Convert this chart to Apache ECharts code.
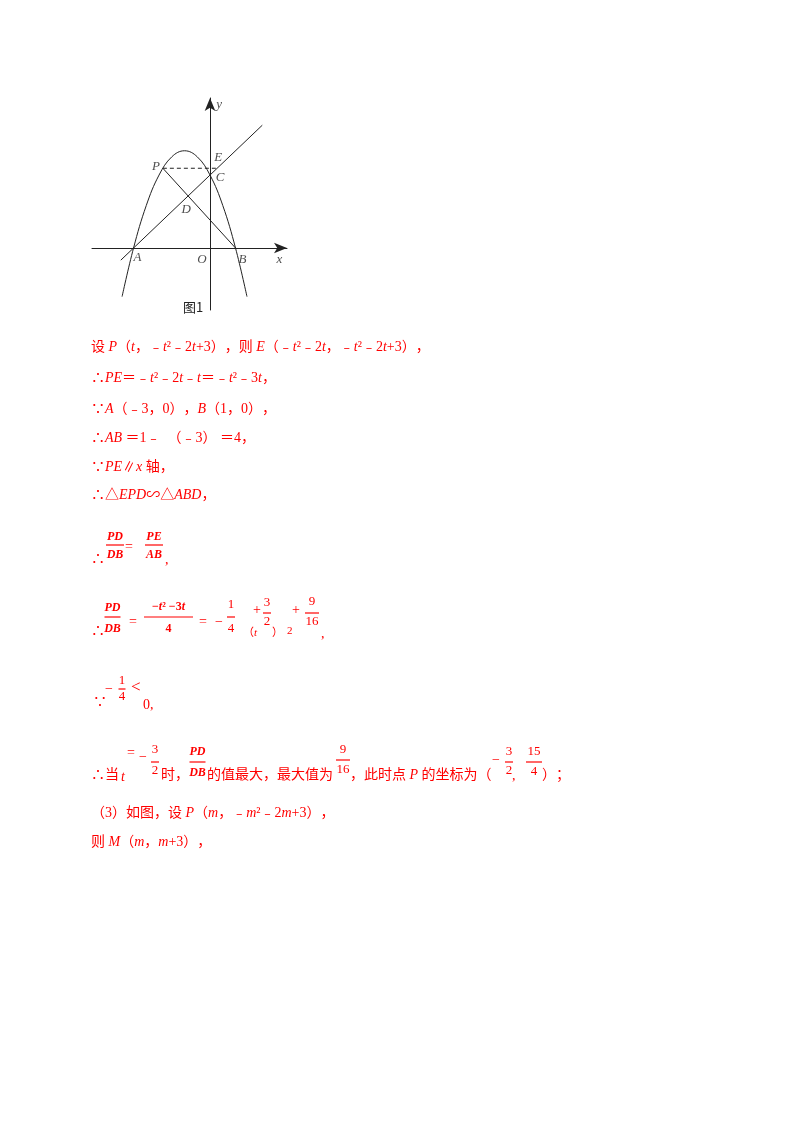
<!DOCTYPE html>
<html>
<head>
<meta charset="utf-8">
<script src="https://cdn.jsdelivr.net/npm/echarts@6/dist/echarts.min.js"></script>
<style>
  html, body { margin: 0; background: #fff; }
  #main { width: 800px; height: 1132px; }
</style>
</head>
<body>
<div id="main"></div>
<script>
// figure 1: parabola y = -x^2 - 2x + 3, line AC, segments PB and PE
var curveX = [-3.45, -3, -2.5, -2, -1.5, -1, -0.5, 0, 0.5, 1, 1.45];
var curveY = [-2.0, 0, 1.75, 3, 3.75, 4, 3.75, 3, 1.75, 0, -2.0];
var lineACX = [-3.5, 2.05];
var lineACY = [-0.5, 5.05];
var segPBX = [-1.85, 1];
var segPBY = [3.28, 0];
var segPEX = [-1.85, 0.28];
var segPEY = [3.28, 3.28];
var pointNames = ['P', 'E', 'C', 'D', 'A', 'O', 'B'];
var pointX = [-1.85, 0.28, 0, -0.86, -3, 0, 1];
var pointY = [3.28, 3.28, 3, 2.14, 0, 0, 0];
var axisNames = ['x', 'y'];
var axisNameX = [2.72, 0];
var axisNameY = [0, 5.9];

// solution text (red)
var textLines = [
  '设 *P*（*t*，﹣*t*²﹣2*t*+3），则 *E*（﹣*t*²﹣2*t*，﹣*t*²﹣2*t*+3），',
  '∴*PE*＝﹣*t*²﹣2*t*﹣*t*＝﹣*t*²﹣3*t*，',
  '∵*A*（﹣3，0），*B*（1，0），',
  '∴*AB* ＝1﹣  （﹣3） ＝4，',
  '∵*PE*∥*x* 轴，',
  '∴△*EPD*∽△*ABD*，'
];
var tailLines = [
  '（3）如图，设 *P*（*m*，﹣*m*²﹣2*m*+3），',
  '则 *M*（*m*，*m*+3），'
];

var RED = '#ff0000';
var INK = '#222';
var SERIF = '"Liberation Serif","Noto Sans CJK SC",serif';

var richStyles = {
  n: { fontFamily: SERIF, fontSize: 14, fill: RED },
  ni: { fontFamily: SERIF, fontSize: 14, fontStyle: 'italic', fill: RED },
  b: { fontFamily: SERIF, fontSize: 12, fontWeight: 'bold', fill: RED },
  bi: { fontFamily: SERIF, fontSize: 12, fontWeight: 'bold', fontStyle: 'italic', fill: RED },
  f: { fontFamily: SERIF, fontSize: 13, fill: RED },
  fi: { fontFamily: SERIF, fontSize: 13, fontStyle: 'italic', fill: RED },
  s: { fontFamily: SERIF, fontSize: 11, fill: RED },
  si: { fontFamily: SERIF, fontSize: 11, fontStyle: 'italic', fill: RED },
  l: { fontFamily: SERIF, fontSize: 17, fill: RED }
};

// every full-width punctuation mark gets its own token, so the browser
// does not squeeze pairs like "），"
function rich(str, cls) {
  var parts = str.split('*');
  var out = '';
  parts.forEach(function (p, k) {
    if (!p) return;
    if (k % 2) { out += '{' + cls + 'i|' + p + '}'; return; }
    p.split(/([（），：；＝])/).forEach(function (q) {
      if (q) out += '{' + cls + '|' + q + '}';
    });
  });
  return out;
}

function txt(x, y, str, cls, align) {
  return {
    type: 'text', x: x, y: y, silent: true,
    style: {
      text: rich(str, cls || 'n'),
      rich: richStyles,
      align: align || 'left',
      verticalAlign: 'middle'
    }
  };
}

function frac(cx, barY, w, num, den, numY, denY, cls) {
  return [
    txt(cx, numY, num, cls, 'center'),
    { type: 'line', silent: true,
      shape: { x1: cx - w / 2, y1: barY, x2: cx + w / 2, y2: barY },
      style: { stroke: RED, lineWidth: 1.2 } },
    txt(cx, denY, den, cls, 'center')
  ];
}

var lineRows = [347, 378, 409, 438, 467, 495];
var graphics = [];
textLines.forEach(function (s, k) { graphics.push(txt(91, lineRows[k], s, 'n')); });

// PD/DB = PE/AB
graphics.push(txt(91, 559, '∴', 'n'));
graphics = graphics.concat(frac(115, 545, 18, '*PD*', '*DB*', 537, 555, 'b'));
graphics.push(txt(125, 547, '=', 'n'));
graphics = graphics.concat(frac(154, 545, 18, '*PE*', '*AB*', 537, 555, 'b'));
graphics.push(txt(165, 560, ',', 'n'));

// PD/DB = (-t^2-3t)/4 = -1/4 (t+3/2)^2 + 9/16
graphics.push(txt(91, 631, '∴', 'n'));
graphics = graphics.concat(frac(112.5, 617, 16, '*PD*', '*DB*', 608, 629, 'b'));
graphics.push(txt(129, 622, '=', 'n'));
graphics = graphics.concat(frac(168.5, 617, 49, '−*t*² −3*t*', '4', 607, 629, 'b'));
graphics.push(txt(199, 622, '=', 'n'));
graphics.push(txt(215, 622, '−', 'n'));
graphics = graphics.concat(frac(231, 617, 8, '1', '4', 605, 629, 'f'));
graphics.push(txt(243, 633, '（', 's'));
graphics.push(txt(254, 633, '*t*', 's'));
graphics.push(txt(253, 610, '+', 'n'));
graphics = graphics.concat(frac(267, 613, 8, '3', '2', 603, 622, 'f'));
graphics.push(txt(272, 633, '）', 's'));
graphics.push(txt(287, 631, '2', 's'));
graphics.push(txt(292, 610, '+', 'n'));
graphics = graphics.concat(frac(312, 613, 14, '9', '16', 602, 622, 'f'));
graphics.push(txt(321, 634, ',', 'n'));

// -1/4 < 0
graphics.push(txt(93, 702, '∵', 'n'));
graphics.push(txt(105, 689, '−', 'n'));
graphics = graphics.concat(frac(122, 689, 7, '1', '4', 681, 697, 'f'));
graphics.push(txt(131, 688, '<', 'l'));
graphics.push(txt(143, 705, '0,', 'n'));

// maximum value line
graphics.push(txt(91, 775, '∴当', 'n'));
graphics.push(txt(121, 777, '*t*', 'n'));
graphics.push(txt(127, 753, '=', 'n'));
graphics.push(txt(139, 757, '−', 'n'));
graphics = graphics.concat(frac(155, 762, 8, '3', '2', 750, 771, 'f'));
graphics.push(txt(161, 775, '时，', 'n'));
graphics = graphics.concat(frac(197.5, 762, 16, '*PD*', '*DB*', 752, 773, 'b'));
graphics.push(txt(207, 775, '的值最大，最大值为', 'n'));
graphics = graphics.concat(frac(343, 760, 14, '9', '16', 750, 770, 'f'));
graphics.push(txt(350, 775, '，此时点 *P* 的坐标为（', 'n'));
graphics.push(txt(492, 760, '−', 'n'));
graphics = graphics.concat(frac(509, 762, 8, '3', '2', 752, 771, 'f'));
graphics.push(txt(512, 776, ',', 'n'));
graphics = graphics.concat(frac(534, 762, 16, '15', '4', 752, 772, 'f'));
graphics.push(txt(542, 775, '）；', 'n'));

graphics.push(txt(91, 813, tailLines[0], 'n'));
graphics.push(txt(91, 842, tailLines[1], 'n'));

// figure caption
graphics.push({
  type: 'text', x: 193, y: 307, silent: true,
  style: { text: '图1', fill: INK, font: '13px "Noto Sans CJK SC", sans-serif',
           align: 'center', verticalAlign: 'middle' }
});

var labelOffsets = {
  P: [-7, -2], E: [1, -11], C: [10, 3], D: [-2, 14],
  A: [4, 10], O: [-8, 12], B: [7, 12], x: [0, 12], y: [9, 0]
};

function zip(xs, ys) {
  return xs.map(function (v, k) { return [v, ys[k]]; });
}
function labelData(names, xs, ys) {
  return names.map(function (n, k) {
    return { name: n, value: [xs[k], ys[k]], label: { offset: labelOffsets[n] } };
  });
}

var thin = { color: INK, width: 1 };

var chart = echarts.init(document.getElementById('main'));
var option = {
  backgroundColor: '#fff',
  animation: false,
  grid: { left: 92, top: 98, width: 195, height: 212, containLabel: false },
  xAxis: {
    type: 'value', min: -4.63, max: 3.02,
    axisLine: { onZero: true, symbol: ['none', 'arrow'], symbolSize: [8, 13], lineStyle: thin },
    axisTick: { show: false }, axisLabel: { show: false }, splitLine: { show: false }
  },
  yAxis: {
    type: 'value', min: -2.55, max: 6.17,
    axisLine: { onZero: true, symbol: ['none', 'arrow'], symbolSize: [8, 13], lineStyle: thin },
    axisTick: { show: false }, axisLabel: { show: false }, splitLine: { show: false }
  },
  series: [
    { type: 'line', data: zip(curveX, curveY), smooth: 0.4, showSymbol: false, lineStyle: thin },
    { type: 'line', data: zip(lineACX, lineACY), showSymbol: false, lineStyle: thin },
    { type: 'line', data: zip(segPBX, segPBY), showSymbol: false, lineStyle: thin },
    { type: 'line', data: zip(segPEX, segPEY), showSymbol: false,
      lineStyle: { color: INK, width: 1, type: [4, 3] } },
    {
      type: 'scatter', symbolSize: 0,
      data: labelData(pointNames, pointX, pointY).concat(labelData(axisNames, axisNameX, axisNameY)),
      label: {
        show: true, position: 'inside', formatter: '{b}', color: INK,
        fontFamily: '"Liberation Serif", serif', fontStyle: 'italic', fontSize: 13
      }
    }
  ],
  graphic: graphics
};
chart.setOption(option);
</script>
</body>
</html>
